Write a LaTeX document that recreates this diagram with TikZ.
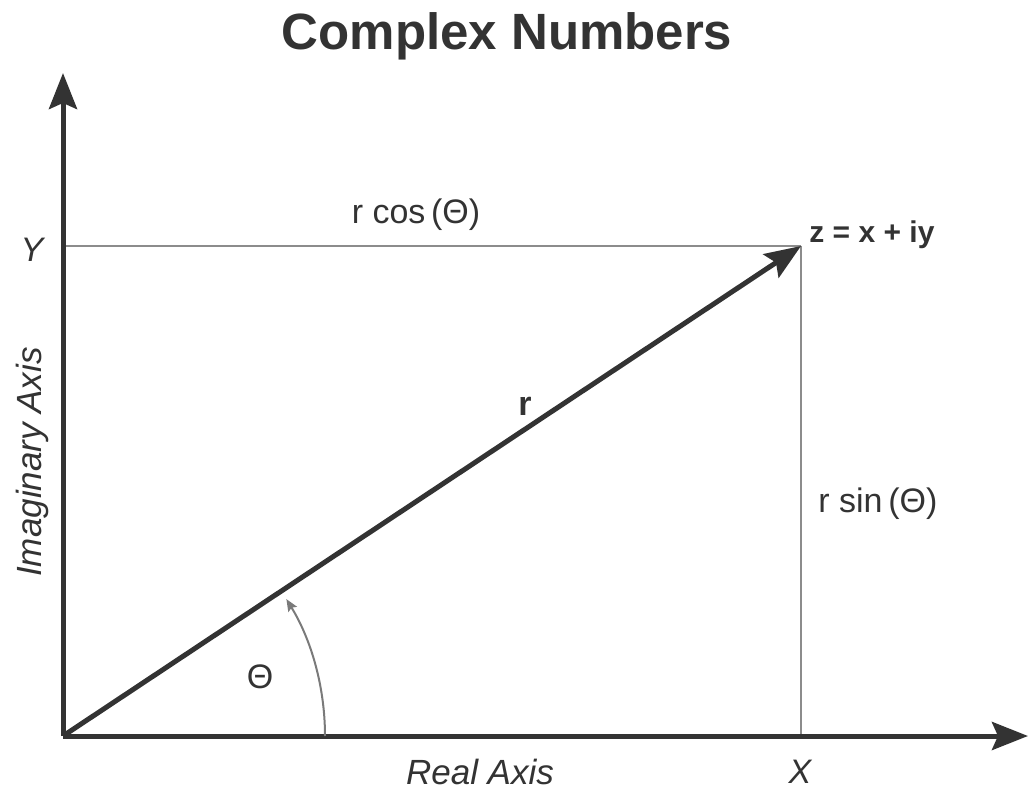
\documentclass[tikz,border=0pt]{standalone}
\usepackage{fontspec}
\setmainfont{Liberation Sans}
\usepackage{xcolor}
\definecolor{InkGray}{HTML}{333333}
\definecolor{GuideGray}{HTML}{8C8C8C}
\definecolor{ArcGray}{HTML}{7A7A7A}
\usepackage{tikz}
\usetikzlibrary{arrows.meta, calc}

\tikzset{
  axisline/.style={InkGray, line width=2.5pt,
    -{Stealth[length=18pt, width=14pt, inset=3pt]}},
  guideline/.style={GuideGray, line width=1pt},
  anglearc/.style={ArcGray, line width=1pt,
    -{Stealth[length=6pt, width=5pt, inset=1pt]}},
  lbl/.style={InkGray, inner sep=0pt, font=\fontsize{17}{20}\selectfont},
}

\begin{document}
\begin{tikzpicture}[x=0.5pt, y=0.5pt]
  % Frame (pixel grid of the reference, y upwards)
  \useasboundingbox (0,0) rectangle (1029,789);

  % Key points
  \coordinate (O)    at (63,53);     % origin
  \coordinate (Ytip) at (63,716);    % imaginary axis end
  \coordinate (Xtip) at (1028,53);   % real axis end
  \coordinate (Z)    at (801,543);   % z = x + iy
  \coordinate (Px)   at (801,53);    % foot on real axis
  \coordinate (Py)   at (63,543);    % foot on imaginary axis

  % Title
  \node[lbl, anchor=base, font=\fontsize{25.5}{30}\selectfont\bfseries]
    (title) at (507,739) {Complex Numbers};

  % Guides to the axes
  \draw[guideline] (Py) -- (Z);
  \draw[guideline] (Z) -- (Px);

  % Axes
  \draw[axisline] (O) -- (Ytip);
  \draw[axisline] (O) -- (Xtip);

  % Vector r
  \draw[axisline] (O) -- (Z);

  % Angle
  \coordinate (A0) at ($(O)+(262,0)$);
  \draw[anglearc] (A0) arc[start angle=0, end angle=31.5, radius=131pt];

  % Labels
  \node[lbl, anchor=base] (rcos) at (416,566) {r cos\,(Θ)};
  \node[lbl, anchor=base west] (rsin) at (818,277) {r sin\,(Θ)};
  \node[lbl, anchor=base west, font=\fontsize{15}{18}\selectfont\bfseries]
    (zlbl) at (809,546) {z = x + iy};
  \node[lbl, anchor=base, font=\fontsize{17}{20}\selectfont\bfseries]
    (rlbl) at (525,374) {r};
  \node[lbl] (theta) at (260,112) {Θ};
  \node[lbl, font=\fontsize{17}{20}\selectfont\itshape] (ylbl) at (32,539) {Y};
  \node[lbl, font=\fontsize{17}{20}\selectfont\itshape] (xlbl) at (800,17) {X};
  \node[lbl, rotate=90, font=\fontsize{17.5}{20}\selectfont\itshape]
    (imlbl) at (32,327) {Imaginary Axis};
  \node[lbl, font=\fontsize{17.5}{20}\selectfont\itshape]
    (relbl) at (480,17) {Real Axis};
\end{tikzpicture}
\end{document}
